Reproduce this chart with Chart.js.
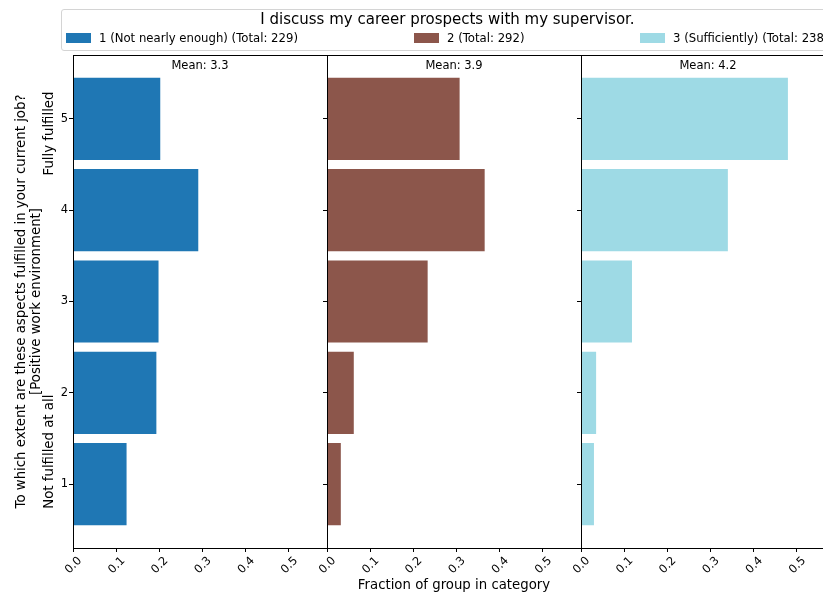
<!DOCTYPE html>
<html>
<head>
<meta charset="utf-8">
<script src="https://cdn.jsdelivr.net/npm/chart.js@4.4.0/dist/chart.umd.min.js"></script>
<style>
    body { margin: 0; width: 823px; height: 592px; overflow: hidden; background: #fff; font-family: "DejaVu Sans", sans-serif; }
    #wrap { position: relative; width: 840px; height: 592px; }
    #wrap canvas { position: absolute; left: 0; top: 0; }
    #legend { position: absolute; left: 61px; top: 9px; width: 771px; height: 40px; border: 1px solid #d4d4d4; border-radius: 3px; background: #fff; }
    #legend .title { position: absolute; left: 0; right: 0; top: 0px; text-align: center; font-size: 15px; color: #000; }
    #legend .item { position: absolute; top: 21px; font-size: 11.7px; color: #000; white-space: nowrap; }
    #legend .swatch { display: inline-block; width: 25px; height: 10px; margin-right: 8px; vertical-align: -1px; }
</style>
</head>
<body>
<div id="wrap">
    <canvas id="panel-0" width="840" height="592"></canvas>
    <canvas id="panel-1" width="840" height="592"></canvas>
    <canvas id="panel-2" width="840" height="592"></canvas>
    <div id="legend">
        <div class="title">I discuss my career prospects with my supervisor.</div>
    </div>
</div>
<script>
var categories = [1, 2, 3, 4, 5];
var groupNames = ["1 (Not nearly enough)", "2", "3 (Sufficiently)"];
var groupTotals = [229, 292, 238];
var groupMeans = [3.3, 3.9, 4.2];
var groupColors = ["#1f77b4", "#8c564b", "#9edae5"];

// fraction of each group in answer categories 1..5
var notNearlyEnough = [0.124, 0.193, 0.198, 0.290, 0.202];
var middleGroup = [0.032, 0.062, 0.233, 0.365, 0.307];
var sufficiently = [0.030, 0.035, 0.118, 0.340, 0.479];

var xTicks = [0, 0.1, 0.2, 0.3, 0.4, 0.5];
var yTicks = [1, 2, 3, 4, 5];
var yTitle = ["To which extent are these aspects fulfilled in your current job?", "[Positive work environment]"];
var topLabel = "Fully fulfilled";
var bottomLabel = "Not fulfilled at all";
var xTitle = "Fraction of group in category";

var PANEL_LEFT = [73, 327, 581];
var PANEL_WIDTH = 254;
var CANVAS_W = 840;
var LABEL_FONT = 13.3;
var TICK_FONT = 11.5;

var framePlugin = {
    id: "frame",
    afterDraw: function (chart, args, opts) {
        var ctx = chart.ctx;
        var a = chart.chartArea;
        ctx.save();
        ctx.strokeStyle = "#000";
        ctx.lineWidth = 1;
        ctx.strokeRect(a.left + 0.5, a.top + 0.5, a.right - a.left, a.bottom - a.top);
        ctx.fillStyle = "#000";
        ctx.font = TICK_FONT + "px 'DejaVu Sans'";
        ctx.textAlign = "center";
        ctx.textBaseline = "middle";
        ctx.fillText("Mean: " + opts.mean.toFixed(1), (a.left + a.right) / 2, a.top + 11);
        if (opts.sideLabels) {
            var y = chart.scales.y;
            ctx.font = LABEL_FONT + "px 'DejaVu Sans'";
            ctx.translate(50, y.getPixelForValue(5.3));
            ctx.rotate(-Math.PI / 2);
            ctx.textAlign = "right";
            ctx.fillText(topLabel, 0, 0);
            ctx.setTransform(1, 0, 0, 1, 0, 0);
            ctx.translate(50, y.getPixelForValue(0.73));
            ctx.rotate(-Math.PI / 2);
            ctx.textAlign = "left";
            ctx.fillText(bottomLabel, 0, 0);
        }
        ctx.restore();
    }
};

function makePanel(index, values) {
    var first = index === 0;
    var yWidth = first ? 73 : 6;
    var left = PANEL_LEFT[index];
    var data = categories.map(function (c, i) { return { x: values[i], y: c }; });

    new Chart(document.getElementById("panel-" + index), {
        type: "bar",
        data: {
            datasets: [{
                label: groupNames[index] + " (Total: " + groupTotals[index] + ")",
                data: data,
                backgroundColor: groupColors[index],
                borderWidth: 0,
                barPercentage: 0.9,
                categoryPercentage: 1.0
            }]
        },
        options: {
            indexAxis: "y",
            responsive: false,
            animation: false,
            layout: { padding: { left: left - yWidth, right: CANVAS_W - left - PANEL_WIDTH, top: 55, bottom: 0 } },
            plugins: {
                legend: { display: false },
                tooltip: { enabled: false },
                frame: { mean: groupMeans[index], sideLabels: first }
            },
            scales: {
                x: {
                    type: "linear",
                    min: 0,
                    max: 0.588,
                    afterBuildTicks: function (scale) {
                        scale.ticks = xTicks.map(function (v) { return { value: v }; });
                    },
                    afterFit: function (scale) { scale.height = 44; },
                    border: { display: false },
                    grid: { drawOnChartArea: false, drawTicks: true, tickLength: 4, tickColor: "#000" },
                    ticks: {
                        minRotation: 45,
                        maxRotation: 45,
                        padding: 2,
                        labelOffset: 7,
                        color: "#000",
                        font: { family: "DejaVu Sans", size: TICK_FONT },
                        callback: function (v) { return Number(v).toFixed(1); }
                    },
                    title: {
                        display: index === 1,
                        text: xTitle,
                        color: "#000",
                        font: { family: "DejaVu Sans", size: LABEL_FONT, lineHeight: 1.0 },
                        padding: { top: 0, bottom: 0 }
                    }
                },
                y: {
                    type: "linear",
                    min: 0.3,
                    max: 5.7,
                    offset: false,
                    afterBuildTicks: function (scale) {
                        scale.ticks = yTicks.map(function (v) { return { value: v }; });
                    },
                    afterFit: function (scale) { scale.width = yWidth; },
                    border: { display: false },
                    grid: { offset: false, drawOnChartArea: false, drawTicks: true, tickLength: 4, tickColor: "#000" },
                    ticks: {
                        display: first,
                        padding: 1,
                        color: "#000",
                        font: { family: "DejaVu Sans", size: TICK_FONT },
                        callback: function (v) { return String(v); }
                    },
                    title: {
                        display: first,
                        text: yTitle,
                        color: "#000",
                        font: { family: "DejaVu Sans", size: LABEL_FONT, lineHeight: 1.15 },
                        padding: { top: 13.4, bottom: 0 }
                    }
                }
            }
        },
        plugins: [framePlugin]
    });
}

function buildLegend() {
    var box = document.getElementById("legend");
    var lefts = [4, 352, 578];
    for (var i = 0; i < groupNames.length; i++) {
        var item = document.createElement("div");
        item.className = "item";
        item.style.left = lefts[i] + "px";
        item.innerHTML = '<span class="swatch" style="background:' + groupColors[i] + '"></span>' +
            groupNames[i] + " (Total: " + groupTotals[i] + ")";
        box.appendChild(item);
    }
}

buildLegend();
makePanel(0, notNearlyEnough);
makePanel(1, middleGroup);
makePanel(2, sufficiently);
</script>
</body>
</html>
